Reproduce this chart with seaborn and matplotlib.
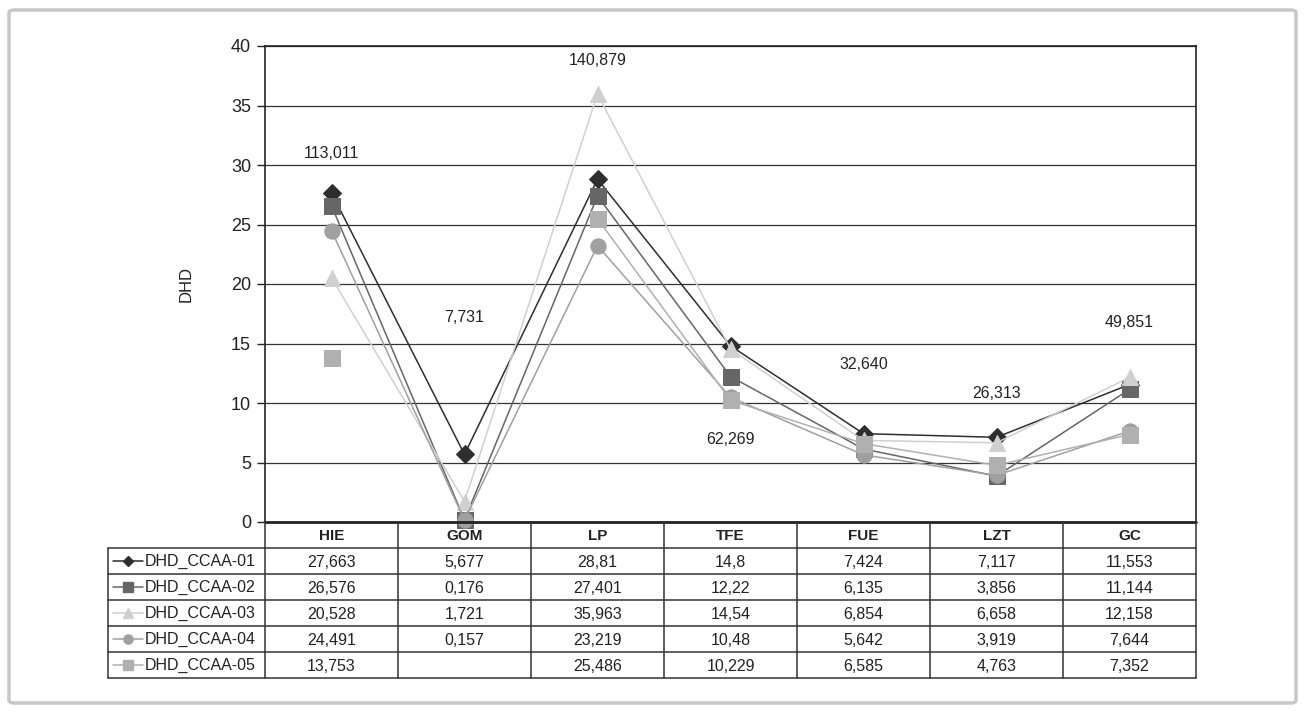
import numpy as np
import pandas as pd
import matplotlib
matplotlib.use("Agg")
import matplotlib.pyplot as plt
from matplotlib.patches import FancyBboxPatch
import seaborn as sns

categories = ["HIE", "GOM", "LP", "TFE", "FUE", "LZT", "GC"]
series_names = ["DHD_CCAA-01", "DHD_CCAA-02", "DHD_CCAA-03", "DHD_CCAA-04", "DHD_CCAA-05"]
s01 = [27.663, 5.677, 28.81, 14.8, 7.424, 7.117, 11.553]
s02 = [26.576, 0.176, 27.401, 12.22, 6.135, 3.856, 11.144]
s03 = [20.528, 1.721, 35.963, 14.54, 6.854, 6.658, 12.158]
s04 = [24.491, 0.157, 23.219, 10.48, 5.642, 3.919, 7.644]
s05 = [13.753, None, 25.486, 10.229, 6.585, 4.763, 7.352]
table_text = [
    ["27,663", "5,677", "28,81", "14,8", "7,424", "7,117", "11,553"],
    ["26,576", "0,176", "27,401", "12,22", "6,135", "3,856", "11,144"],
    ["20,528", "1,721", "35,963", "14,54", "6,854", "6,658", "12,158"],
    ["24,491", "0,157", "23,219", "10,48", "5,642", "3,919", "7,644"],
    ["13,753", "", "25,486", "10,229", "6,585", "4,763", "7,352"],
]
totals = ["113,011", "7,731", "140,879", "62,269", "32,640", "26,313", "49,851"]
total_label_y = [31.0, 17.2, 38.8, 6.9, 13.2, 10.8, 16.8]
y_ticks = [0, 5, 10, 15, 20, 25, 30, 35, 40]

colors = ["#2e2e2e", "#666666", "#d0d0d0", "#a0a0a0", "#b0b0b0"]
markers = ["D", "s", "^", "o", "s"]
msizes = [9, 11, 11, 11, 11]

sns.set_theme(style="white")
plt.rcParams["font.family"] = ["Liberation Sans", "DejaVu Sans"]

fig = plt.figure(figsize=(13.05, 7.12), dpi=100)
W, H = 1305, 712
def fx(px): return px / W
def fy(py): return 1 - py / H

# outer frame
frame = FancyBboxPatch((fx(9), fy(703)), fx(1296) - fx(9), fy(10) - fy(703),
                       boxstyle="round,pad=0,rounding_size=0.004",
                       transform=fig.transFigure, fill=False,
                       edgecolor="#c8c8c8", linewidth=2.5)
fig.patches.append(frame)

# main axes
L, R, T, B = 265, 1196, 46, 522
ax = fig.add_axes([fx(L), fy(B), fx(R) - fx(L), fy(T) - fy(B)])

all_series = [s01, s02, s03, s04, s05]
xs = np.arange(len(categories)) + 0.5
for k, (name, vals) in enumerate(zip(series_names, all_series)):
    v = np.array([np.nan if x is None else x for x in vals], dtype=float)
    seg = np.cumsum(np.isnan(v))
    df = pd.DataFrame({"x": xs, "y": v, "seg": seg}).dropna()
    sns.lineplot(data=df, x="x", y="y", units="seg", estimator=None, ax=ax,
                 color=colors[k], linewidth=1.1, marker=markers[k],
                 markersize=msizes[k], markeredgecolor=colors[k],
                 zorder=3 + k, legend=False, clip_on=False)

ax.set_xlim(0, 7)
ax.set_ylim(0, 40)
ax.set_yticks(y_ticks)
ax.set_yticklabels([str(t) for t in y_ticks], fontsize=13, color="#222222")
ax.set_xticks([])
ax.tick_params(axis="y", length=6, width=1, color="#222222", direction="out", left=True, pad=4)
for y in y_ticks[1:]:
    ax.axhline(y, color="#333333", linewidth=0.9, zorder=1)
for sp in ["left", "top", "right"]:
    ax.spines[sp].set_visible(True)
    ax.spines[sp].set_color("#222222")
    ax.spines[sp].set_linewidth(1.2)
ax.spines["bottom"].set_visible(False)
ax.set_xlabel("")
ax.set_ylabel("DHD", fontsize=12, color="#222222", labelpad=27)

for i, (t, yy) in enumerate(zip(totals, total_label_y)):
    ax.text(xs[i], yy, t, ha="center", va="center", fontsize=11.5, color="#222222", zorder=10)

# table axes
TL, TB = 108, 678
lab_w = (L - TL) / ((R - L) / 7)
tax = fig.add_axes([fx(TL), fy(TB), fx(R) - fx(TL), fy(B) - fy(TB)])
tax.set_xlim(-lab_w, 7)
tax.set_ylim(6, 0)
tax.axis("off")
lc = "#333333"
tax.plot([0, 7], [0, 0], color="#222222", linewidth=2.0, clip_on=False)
for r in range(1, 7):
    tax.plot([-lab_w, 7], [r, r], color=lc, linewidth=1.1, clip_on=False)
tax.plot([-lab_w, -lab_w], [1, 6], color=lc, linewidth=1.1, clip_on=False)
for c in range(0, 8):
    tax.plot([c, c], [0, 6], color=lc, linewidth=1.1, clip_on=False)
for i, c in enumerate(categories):
    tax.text(i + 0.5, 0.55, c, ha="center", va="center", fontsize=11,
             fontweight="bold", color="#222222")
for r in range(5):
    for i in range(7):
        tax.text(i + 0.5, r + 1.55, table_text[r][i], ha="center", va="center",
                 fontsize=11.5, color="#222222")
    x0 = -lab_w + 0.04
    tax.plot([x0, x0 + 0.22], [r + 1.5, r + 1.5], color=colors[r], linewidth=1.1)
    tax.plot([x0 + 0.11], [r + 1.5], marker=markers[r], color=colors[r],
             markersize=msizes[r] * 0.6, markeredgecolor=colors[r])
    tax.text(x0 + 0.235, r + 1.5, series_names[r], ha="left", va="center",
             fontsize=11.5, color="#222222")

fig.savefig("out.png", dpi=100)
